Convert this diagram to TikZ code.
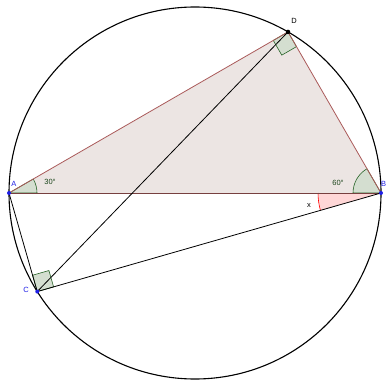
\documentclass[tikz,border=0pt]{standalone}
\usepackage{fontspec}
\setmainfont{Liberation Sans}
\usetikzlibrary{calc}
\definecolor{trifill}{RGB}{236,229,227}
\definecolor{triedge}{RGB}{170,90,90}
\definecolor{angfill}{RGB}{212,222,208}
\definecolor{angedge}{RGB}{40,100,40}
\definecolor{ptblue}{RGB}{30,30,230}
\definecolor{xfill}{RGB}{255,215,215}
\tikzset{
  thinline/.style={draw=black,line width=0.8pt},
  triline/.style={draw=triedge,line width=0.8pt},
  angmark/.style={fill=angfill,draw=angedge,line width=0.6pt},
  ptdot/.style={circle,fill=ptblue,inner sep=0pt,minimum size=4pt},
  lbl/.style={font=\fontsize{7.5}{8}\selectfont,inner sep=0pt},
}
\begin{document}
\begin{tikzpicture}[x=1pt,y=1pt]
\useasboundingbox (0,0) rectangle (387,383);
\coordinate (O) at (195,190);
\coordinate (A) at ([shift={(O)}]180:186);
\coordinate (B) at ([shift={(O)}]0:186);
\coordinate (D) at ([shift={(O)}]60:186);
\coordinate (C) at ([shift={(O)}]212:186);
% triangle
\fill[trifill] (A) -- (B) -- (D) -- cycle;
% angle x
\fill[xfill] (B) -- ([shift={(B)}]180:63) arc[start angle=180,end angle=196,radius=63] -- cycle;
\draw[red,line width=0.6pt] ([shift={(B)}]180:63) arc[start angle=180,end angle=196,radius=63];
% angle marks
\filldraw[angmark] (A) -- ([shift={(A)}]0:28) arc[start angle=0,end angle=30,radius=28] -- cycle;
\filldraw[angmark] (B) -- ([shift={(B)}]120:28) arc[start angle=120,end angle=180,radius=28] -- cycle;
\filldraw[angmark] (D) -- ($(D)!17pt!(A)$) -- ($($(D)!17pt!(A)$)+($(D)!17pt!(B)$)-(D)$) -- ($(D)!17pt!(B)$) -- cycle;
\filldraw[angmark] (C) -- ($(C)!17pt!(A)$) -- ($($(C)!17pt!(A)$)+($(C)!17pt!(B)$)-(C)$) -- ($(C)!17pt!(B)$) -- cycle;
% triangle edges
\draw[triline] (A) -- (D) -- (B);
\draw[draw=triedge!70!black,line width=0.8pt] (A) -- (B);
% other segments
\draw[thinline] (A) -- (C) -- (B);
\draw[thinline] (C) -- (D);
% circle
\draw[black,line width=1.1pt] (O) circle[radius=186];
% points
\node[ptdot] (pA) at (A) {};
\node[ptdot] (pB) at (B) {};
\node[ptdot] (pC) at (C) {};
\node[circle,fill=black,inner sep=0pt,minimum size=4.5pt] (pD) at (D) {};
% labels
\node[lbl,text=ptblue] (lA) at (14,199) {A};
\node[lbl,text=ptblue] (lB) at (383.5,199) {B};
\node[lbl,text=ptblue] (lC) at (26,93) {C};
\node[lbl] (lD) at (294,362) {D};
\node[lbl,text=angedge!70!black] (l30) at (50,201) {30°};
\node[lbl,text=angedge!70!black] (l60) at (338,200) {60°};
\node[lbl] (lx) at (309,177) {x};
\end{tikzpicture}
\end{document}
